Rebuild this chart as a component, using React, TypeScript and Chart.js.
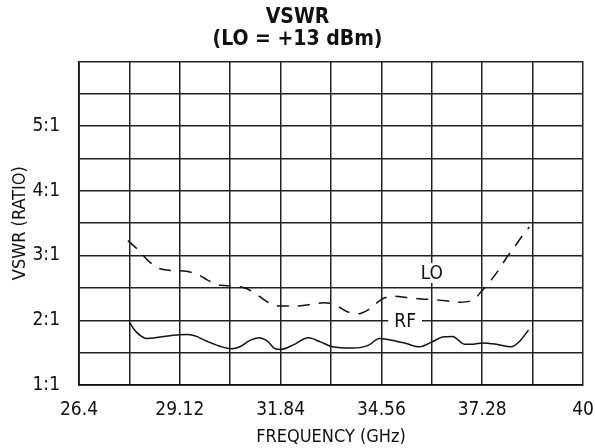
import React, { useEffect, useRef } from "react";
import { Chart, registerables } from "chart.js";

Chart.register(...registerables);

const FONT = '"Liberation Sans Narrow", "DejaVu Sans Condensed", "Arial Narrow", sans-serif';

const titleLines = ["VSWR", "(LO = +13 dBm)"];
const xAxisTitle = "FREQUENCY (GHz)";
const yAxisTitle = "VSWR (RATIO)";

const xTicks = [26.4, 27.76, 29.12, 30.48, 31.84, 33.2, 34.56, 35.92, 37.28, 38.64, 40];
const xTickLabels = ["26.4", "", "29.12", "", "31.84", "", "34.56", "", "37.28", "", "40"];
const yTicks = [1, 1.5, 2, 2.5, 3, 3.5, 4, 4.5, 5, 5.5, 6];
const yTickLabels = ["1:1", "", "2:1", "", "3:1", "", "4:1", "", "5:1", "", ""];

const loFreq = [27.72, 27.99, 28.25, 28.52, 28.87, 29.23, 29.6, 29.87, 30.22, 30.56, 30.92, 31.24, 31.53, 31.82, 32.23, 32.59, 33.0, 33.27, 33.61, 33.92, 34.28, 34.55, 34.91, 35.24, 35.63, 35.95, 36.3, 36.66, 37.02, 37.28, 37.52, 37.74, 37.94, 38.15, 38.37, 38.55];
const loVswr = [3.23, 3.09, 2.93, 2.81, 2.77, 2.76, 2.71, 2.62, 2.54, 2.53, 2.49, 2.38, 2.27, 2.22, 2.22, 2.24, 2.27, 2.25, 2.14, 2.1, 2.19, 2.32, 2.37, 2.35, 2.33, 2.32, 2.3, 2.28, 2.31, 2.46, 2.62, 2.79, 2.97, 3.13, 3.31, 3.44];

const rfFreq = [27.77, 27.9, 28.04, 28.22, 28.58, 28.94, 29.3, 29.52, 29.84, 30.2, 30.52, 30.74, 31.01, 31.26, 31.5, 31.69, 31.86, 32.18, 32.59, 32.9, 33.24, 33.78, 34.23, 34.5, 34.77, 35.23, 35.58, 35.94, 36.21, 36.48, 36.8, 37.03, 37.29, 37.66, 38.06, 38.28, 38.53];
const rfVswr = [1.96, 1.85, 1.77, 1.72, 1.74, 1.77, 1.78, 1.76, 1.68, 1.6, 1.56, 1.59, 1.69, 1.73, 1.67, 1.56, 1.55, 1.62, 1.73, 1.67, 1.59, 1.57, 1.62, 1.72, 1.7, 1.64, 1.59, 1.67, 1.74, 1.75, 1.63, 1.63, 1.65, 1.63, 1.59, 1.67, 1.85];

const curveLabelText = ["LO", "RF"];
const curveLabelX = [35.92, 35.2];
const curveLabelY = [2.73, 1.99];

const curveLabelPlugin = {
  id: "curveLabels",
  afterDatasetsDraw(chart: any) {
    const { ctx, scales } = chart;
    ctx.save();
    ctx.font = `19px ${FONT}`;
    ctx.textAlign = "center";
    ctx.textBaseline = "middle";
    curveLabelText.forEach((t, i) => {
      const px = scales.x.getPixelForValue(curveLabelX[i]);
      const py = scales.y.getPixelForValue(curveLabelY[i]);
      const w = ctx.measureText(t).width + 12;
      const h = 20;
      ctx.fillStyle = "#ffffff";
      ctx.fillRect(px - w / 2, py - h / 2, w, h);
      ctx.fillStyle = "#111111";
      ctx.fillText(t, px, py + 1);
    });
    ctx.restore();
  },
};

export default function App() {
  const ref = useRef<HTMLCanvasElement | null>(null);

  useEffect(() => {
    if (!ref.current) return;
    const chart = new Chart(ref.current, {
      type: "line",
      data: {
        datasets: [
          {
            label: "LO",
            data: loFreq.map((f, i) => ({ x: f, y: loVswr[i] })),
            borderColor: "#111111",
            borderWidth: 1.5,
            borderDash: [12, 9],
            pointRadius: 0,
            cubicInterpolationMode: "monotone",
            fill: false,
          },
          {
            label: "RF",
            data: rfFreq.map((f, i) => ({ x: f, y: rfVswr[i] })),
            borderColor: "#111111",
            borderWidth: 1.5,
            pointRadius: 0,
            cubicInterpolationMode: "monotone",
            fill: false,
          },
        ],
      },
      options: {
        responsive: false,
        animation: false,
        layout: { padding: { left: 0, right: 0, top: 0, bottom: 0 } },
        plugins: {
          legend: { display: false },
          tooltip: { enabled: false },
          title: {
            display: true,
            text: titleLines,
            color: "#111111",
            font: { family: FONT, size: 21, weight: "bold", lineHeight: 1.08 },
            padding: { top: 6, bottom: 10 },
          },
        },
        scales: {
          x: {
            type: "linear",
            min: 26.4,
            max: 40,
            afterBuildTicks: (s: any) => {
              s.ticks = xTicks.map((v) => ({ value: v }));
            },
            afterFit: (s: any) => {
              s.height = 63;
              s.paddingLeft = 0;
              s.paddingRight = 12;
            },
            ticks: {
              autoSkip: false,
              maxRotation: 0,
              padding: 14,
              color: "#111111",
              font: { family: FONT, size: 19 },
              callback: (_v: any, i: number) => xTickLabels[i],
            },
            grid: { color: "#222222", lineWidth: 1.5, drawTicks: false },
            border: { color: "#111111", width: 1.7 },
            title: {
              display: true,
              text: xAxisTitle,
              color: "#111111",
              font: { family: FONT, size: 18 },
              padding: { top: 0, bottom: 0 },
            },
          },
          y: {
            type: "linear",
            min: 1,
            max: 6,
            afterBuildTicks: (s: any) => {
              s.ticks = yTicks.map((v) => ({ value: v }));
            },
            afterFit: (s: any) => {
              s.width = 79;
            },
            ticks: {
              autoSkip: false,
              padding: 19,
              color: "#111111",
              font: { family: FONT, size: 19 },
              callback: (_v: any, i: number) => yTickLabels[i],
            },
            grid: { color: "#222222", lineWidth: 1.5, drawTicks: false },
            border: { color: "#111111", width: 1.7 },
            title: {
              display: true,
              text: yAxisTitle,
              color: "#111111",
              font: { family: FONT, size: 18 },
              padding: { top: 10, bottom: 0 },
            },
          },
        },
      },
      plugins: [curveLabelPlugin],
    });
    return () => chart.destroy();
  }, []);

  return (
    <div style={{ position: "fixed", left: 0, top: 0, width: 595, height: 448, background: "#fff" }}>
      <canvas ref={ref} width={595} height={448} style={{ display: "block" }} />
    </div>
  );
}
